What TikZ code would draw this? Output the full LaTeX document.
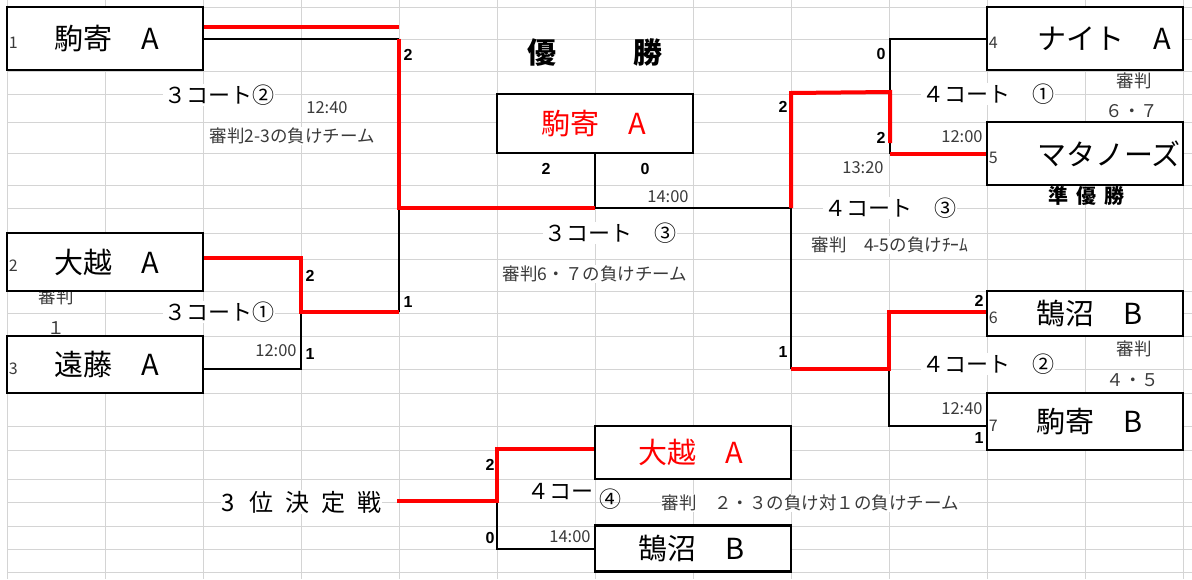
\documentclass[tikz,border=0pt]{standalone}
\usepackage{fontspec}
\setmainfont{Noto Sans CJK JP}
\newfontfamily\scorefont{Liberation Sans}
\usetikzlibrary{positioning}
\definecolor{gridgray}{HTML}{D4D4D4}
\definecolor{inkgray}{HTML}{3A3A3A}
\tikzset{
  teambox/.style={draw,line width=2.6pt,fill=white,minimum width=196pt,inner sep=0pt},
  teamname/.style={anchor=west,inner sep=0pt,font=\fontsize{29}{31}\selectfont},
  seednum/.style={anchor=west,inner sep=0pt,text=inkgray,font=\fontsize{16}{18}\selectfont},
  score/.style={inner sep=0pt,font=\scorefont\bfseries\fontsize{16}{18}\selectfont},
  clock/.style={inner sep=0pt,text=inkgray,font=\fontsize{16.5}{18}\selectfont},
  court/.style={fill=white,inner sep=1pt,font=\fontsize{22}{24}\selectfont},
  judge/.style={fill=white,inner sep=1pt,text=inkgray,font=\fontsize{17.5}{19}\selectfont},
  title/.style={inner sep=0pt,font=\bfseries\fontsize{29}{31}\selectfont},
  wonline/.style={red,line width=4pt},
  lostline/.style={black,line width=2pt}
}

\begin{document}
\begin{tikzpicture}[x=1pt,y=-1pt]
  \useasboundingbox (0,0) rectangle (1192,579);
  \fill[white] (0,0) rectangle (1192,579);
  \foreach \gx in {7,105,...,1183}
    \draw[gridgray,line width=1pt] (\gx,0) -- (\gx,579);
  \foreach \gy in {7,39,71,94,122,153,185,208,233,259,291,313,336,369,393,426,450,479,502,526,549,572}
    \draw[gridgray,line width=1pt] (7,\gy) -- (1192,\gy);

  % labels
  \node[court] (c32) at (219,95) {３コート②};
  \node[court] (c31) at (219,312) {３コート①};
  \node[court] (c33) at (610,233) {３コート　③};
  \node[court] (c41) at (988,94) {４コート　①};
  \node[court] (c43) at (890,208) {４コート　③};
  \node[court] (c42) at (988,364) {４コート　②};
  \node[court] (c44a) at (560,492) {４コー};
  \node[court,fill=none] (c44b) at (610,499) {④};
  \node[court,font=\fontsize{24}{26}\selectfont] (third) at (301.5,502) {3\hspace{14pt}位\hspace{12pt}決\hspace{12pt}定\hspace{12pt}戦};
  \node[judge] (j1) at (292,136) {審判2-3の負けチーム};
  \node[judge] (j2) at (595,274) {審判6・７の負けチーム};
  \node[judge] (j3) at (890,245) {審判　4-5の負けﾁｰﾑ};
  \node[judge] (j4) at (810,503) {審判　２・３の負け対１の負けチーム};
  \node[judge] (j5) at (56,297) {審判};
  \node[judge] (j5n) at (56,328) {１};
  \node[judge] (j6) at (1134,81) {審判};
  \node[judge] (j6n) at (1132,111) {６・７};
  \node[judge] (j7) at (1134,349) {審判};
  \node[judge] (j7n) at (1133,380) {４・５};
  \node[title] (yusho) at (595,53) {優\hspace{77pt}勝};
  \node[title,font=\bfseries\fontsize{20}{22}\selectfont] (junyusho) at (1086,196) {準\hspace{8pt}優\hspace{8pt}勝};

  \node[clock] (k1) at (327,108) {12:40};
  \node[clock] (k2) at (276,351) {12:00};
  \node[clock] (k3) at (668,197) {14:00};
  \node[clock] (k4) at (863,168) {13:20};
  \node[clock] (k5) at (962,137) {12:00};
  \node[clock] (k6) at (962,409) {12:40};
  \node[clock] (k7) at (570,537) {14:00};

  \node[score] (p1) at (408,55) {2};
  \node[score] (p2) at (310,276) {2};
  \node[score] (p3) at (310,354) {1};
  \node[score] (p4) at (408,302) {1};
  \node[score] (p5) at (546,169) {2};
  \node[score] (p6) at (645,169) {0};
  \node[score] (p7) at (881,54) {0};
  \node[score] (p8) at (881,138) {2};
  \node[score] (p9) at (783,107) {2};
  \node[score] (p10) at (979,301) {2};
  \node[score] (p11) at (783,352) {1};
  \node[score] (p12) at (979,438) {1};
  \node[score] (p13) at (490,465) {2};
  \node[score] (p14) at (490,538) {0};

  % team boxes
  \node[teambox,minimum height=63pt] (t1) at (105,38.5) {};
  \node[teambox,minimum height=58pt] (t2) at (105,262) {};
  \node[teambox,minimum height=57pt] (t3) at (105,364.5) {};
  \node[teambox,minimum height=63pt] (t4) at (1085,38.5) {};
  \node[teambox,minimum height=63pt] (t5) at (1085,153.5) {};
  \node[teambox,minimum height=45pt] (t6) at (1085,313.5) {};
  \node[teambox,minimum height=57pt] (t7) at (1085,421.5) {};
  \node[teambox,minimum height=59pt] (champ) at (595,123.5) {};
  \node[teambox,minimum height=53pt] (th1) at (693,452.5) {};
  \node[teambox,minimum height=46pt] (th2) at (693,548.5) {};

  \node[teamname] (n1) at ([xshift=49pt]t1.west) {駒寄　A};
  \node[teamname] (n2) at ([xshift=49pt]t2.west) {大越　A};
  \node[teamname] (n3) at ([xshift=49pt]t3.west) {遠藤　A};
  \node[teamname] (n4) at ([xshift=52pt]t4.west) {ナイト　A};
  \node[teamname] (n5) at ([xshift=52pt]t5.west) {マタノーズ};
  \node[teamname] (n6) at ([xshift=51pt]t6.west) {鵠沼　B};
  \node[teamname] (n7) at ([xshift=51pt]t7.west) {駒寄　B};
  \node[teamname,text=red] (nc) at ([xshift=46pt]champ.west) {駒寄　A};
  \node[teamname,text=red] (nt1) at ([xshift=45pt]th1.west) {大越　A};
  \node[teamname] (nt2) at ([xshift=45pt]th2.west) {鵠沼　B};

  \foreach \b/\s in {t1/1,t2/2,t3/3,t4/4,t5/5,t6/6,t7/7}
    \node[seednum] (seed\s) at ([xshift=3pt,yshift=-4pt]\b.west) {\s};

  % bracket
  \coordinate (lr) at (399,27);
  \coordinate (lt) at (399,38.5);
  \coordinate (lm) at (399,208);
  \coordinate (lq) at (399,312);
  \coordinate (q1t) at (301,258);
  \coordinate (q1m) at (301,312);
  \coordinate (q1b) at (301,369);
  \coordinate (fm) at (595,208);
  \coordinate (rm) at (791,208);
  \coordinate (rt) at (791,93);
  \coordinate (rq) at (791,369);
  \coordinate (s1t) at (890,38.5);
  \coordinate (s1m) at (890,92);
  \coordinate (s1r) at (890,143);
  \coordinate (s1b) at (890,153.5);
  \coordinate (s2t) at (889,312);
  \coordinate (s2m) at (889,369);
  \coordinate (s2b) at (889,426);
  \coordinate (tp0) at (397,501);
  \coordinate (tpm) at (497,501);
  \coordinate (tpt) at (497,449);
  \coordinate (tpb) at (497,548.5);

  \draw[lostline] (t1.east) -- (lt);
  \draw[lostline] (lm) -- (lq);
  \draw[lostline] (champ.south) -- (fm) -- (rm) -- (rq);
  \draw[lostline] (q1m) -- (q1b) -- (q1b -| t3.east);
  \draw[lostline] (t4.west) -- (s1t) -- (s1b);
  \draw[lostline] (s2m) -- (s2b) -- (s2b -| t7.west);
  \draw[lostline] (tpm) -- (tpb) -- (th2.west);
  \draw[wonline] (t1.east |- lr) -- (lr);
  \draw[wonline] (lt) -- (lm) -- (fm);
  \draw[wonline] (q1t -| t2.east) -- (q1t) -- (q1m) -- (lq);
  \draw[wonline] (rm) -- (rt) -- (s1m) -- (s1r);
  \draw[wonline] (s1b) -- (t5.west);
  \draw[wonline] (s2t -| t6.west) -- (s2t) -- (s2m) -- (rq);
  \draw[wonline] (tp0) -- (tpm) -- (tpt) -- (tpt -| th1.west);
\end{tikzpicture}
\end{document}
